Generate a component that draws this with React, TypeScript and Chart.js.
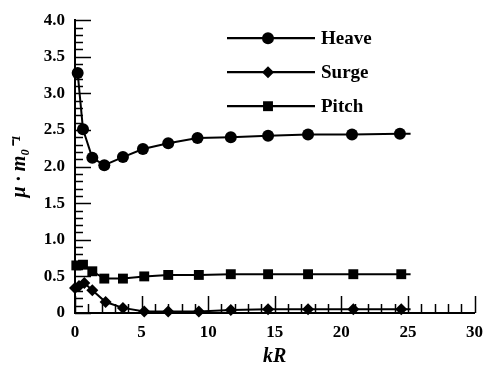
import React, { useEffect, useRef } from "react";
import { Chart, registerables } from "chart.js";

Chart.register(...registerables);

const heaveKR = [0.2, 0.6, 1.3, 2.2, 3.6, 5.1, 7.0, 9.2, 11.7, 14.5, 17.5, 20.8, 24.4, 25.2];
const heaveMu = [3.28, 2.51, 2.12, 2.02, 2.13, 2.24, 2.32, 2.39, 2.4, 2.42, 2.44, 2.44, 2.45, 2.45];
const surgeKR = [0.0, 0.3, 0.7, 1.3, 2.3, 3.6, 5.2, 7.0, 9.3, 11.7, 14.5, 17.5, 20.9, 24.5, 25.2];
const surgeMu = [0.34, 0.37, 0.41, 0.31, 0.15, 0.07, 0.02, 0.02, 0.02, 0.04, 0.05, 0.05, 0.05, 0.05, 0.05];
const pitchKR = [0.1, 0.6, 1.3, 2.2, 3.6, 5.2, 7.0, 9.3, 11.7, 14.5, 17.5, 20.9, 24.5, 25.2];
const pitchMu = [0.65, 0.66, 0.57, 0.47, 0.47, 0.5, 0.52, 0.52, 0.53, 0.53, 0.53, 0.53, 0.53, 0.53];

const seriesNames = ["Heave", "Surge", "Pitch"];
const seriesStyles = ["circle", "rectRot", "rect"];
const xTickValues = [0, 5, 10, 15, 20, 25, 30];
const yTickValues = [0, 0.5, 1.0, 1.5, 2.0, 2.5, 3.0, 3.5, 4.0];

const SERIF = "'Liberation Serif', 'Times New Roman', serif";

function toPoints(xs: number[], ys: number[]) {
  return xs.map((x, i) => ({ x, y: ys[i] }));
}

function drawMarker(ctx: CanvasRenderingContext2D, style: string, x: number, y: number, r: number) {
  ctx.beginPath();
  if (style === "circle") {
    ctx.arc(x, y, r, 0, Math.PI * 2);
  } else if (style === "rectRot") {
    ctx.moveTo(x, y - r);
    ctx.lineTo(x + r, y);
    ctx.lineTo(x, y + r);
    ctx.lineTo(x - r, y);
    ctx.closePath();
  } else {
    const s = r * Math.SQRT1_2;
    ctx.rect(x - s, y - s, 2 * s, 2 * s);
  }
  ctx.fill();
}

const radii = [6, 6, 7];

const customPlugin = {
  id: "customDecor",
  afterDraw(chart: any) {
    const ctx = chart.ctx as CanvasRenderingContext2D;
    const xs = chart.scales.x;
    const ys = chart.scales.y;
    const area = chart.chartArea;
    ctx.save();
    ctx.strokeStyle = "#000";
    ctx.fillStyle = "#000";
    ctx.lineWidth = 1.5;
    for (let i = 0; i <= 40; i++) {
      const v = i / 10;
      const py = Math.round(ys.getPixelForValue(v)) + 0.5;
      const len = i % 5 === 0 ? 16 : 8;
      ctx.beginPath();
      ctx.moveTo(area.left, py);
      ctx.lineTo(area.left + len, py);
      ctx.stroke();
    }
    for (let i = 0; i <= 30; i++) {
      const px = Math.round(xs.getPixelForValue(i)) + 0.5;
      const len = i % 5 === 0 ? 17 : 9;
      ctx.beginPath();
      ctx.moveTo(px, area.bottom);
      ctx.lineTo(px, area.bottom - len);
      ctx.stroke();
    }
    const lx0 = area.left + 152;
    const lx1 = area.left + 240;
    const mx = (lx0 + lx1) / 2 - 3;
    ctx.lineWidth = 2.2;
    ctx.font = `bold 19px ${SERIF}`;
    ctx.textAlign = "left";
    ctx.textBaseline = "middle";
    seriesNames.forEach((name, i) => {
      const y = area.top + 18 + i * 34;
      ctx.beginPath();
      ctx.moveTo(lx0, y);
      ctx.lineTo(lx1, y);
      ctx.stroke();
      drawMarker(ctx, seriesStyles[i], mx, y, radii[i]);
      ctx.fillText(name, lx1 + 6, y + 1);
    });
    ctx.restore();
  },
};

export default function App() {
  const ref = useRef<HTMLCanvasElement>(null);
  useEffect(() => {
    document.body.style.margin = "0";
    const datasets = [
      toPoints(heaveKR, heaveMu),
      toPoints(surgeKR, surgeMu),
      toPoints(pitchKR, pitchMu),
    ].map((data, i) => ({
      label: seriesNames[i],
      data,
      borderColor: "#000",
      backgroundColor: "#000",
      borderWidth: 2,
      pointStyle: seriesStyles[i],
      pointRadius: (c: any) => (c.dataIndex === data.length - 1 ? 0 : radii[i]),
      pointBorderWidth: 0,
      tension: 0,
      clip: false as any,
    }));
    const chart = new Chart(ref.current!, {
      type: "line",
      data: { datasets },
      options: {
        animation: false,
        responsive: false,
        maintainAspectRatio: false,
        layout: { padding: { top: 18, right: 17, left: 0, bottom: 0 } },
        plugins: { legend: { display: false }, tooltip: { enabled: false } },
        scales: {
          x: {
            type: "linear",
            min: 0,
            max: 30,
            afterBuildTicks: (s: any) => {
              s.ticks = xTickValues.map((v) => ({ value: v }));
            },
            afterFit: (s: any) => {
              s.height = 56;
            },
            grid: { display: false, drawTicks: false },
            border: { display: true, color: "#000", width: 2 },
            ticks: {
              color: "#000",
              font: { family: SERIF, size: 17, weight: "bold" },
              padding: 9,
              maxRotation: 0,
            },
            title: {
              display: true,
              text: "kR",
              color: "#000",
              font: { family: SERIF, size: 20, style: "italic", weight: "bold" },
              padding: { top: 2, bottom: 0 },
            },
          },
          y: {
            type: "linear",
            min: 0,
            max: 4,
            afterBuildTicks: (s: any) => {
              s.ticks = yTickValues.map((v) => ({ value: v }));
            },
            afterFit: (s: any) => {
              s.width = 75;
            },
            grid: { display: false, drawTicks: false },
            border: { display: true, color: "#000", width: 2 },
            ticks: {
              color: "#000",
              font: { family: SERIF, size: 17, weight: "bold" },
              padding: 10,
              callback: (v: any) => (Number(v) === 0 ? "0" : Number(v).toFixed(1)),
            },
            title: {
              display: true,
              text: "μ · m₀⁻¹",
              color: "#000",
              font: { family: SERIF, size: 20, style: "italic", weight: "bold" },
              padding: { top: 8, bottom: 4 },
            },
          },
        },
      },
      plugins: [customPlugin],
    });
    return () => chart.destroy();
  }, []);
  return (
    <div style={{ position: "absolute", left: 0, top: 0, width: 492, height: 369 }}>
      <canvas ref={ref} width={492} height={369} style={{ width: 492, height: 369 }} />
    </div>
  );
}
